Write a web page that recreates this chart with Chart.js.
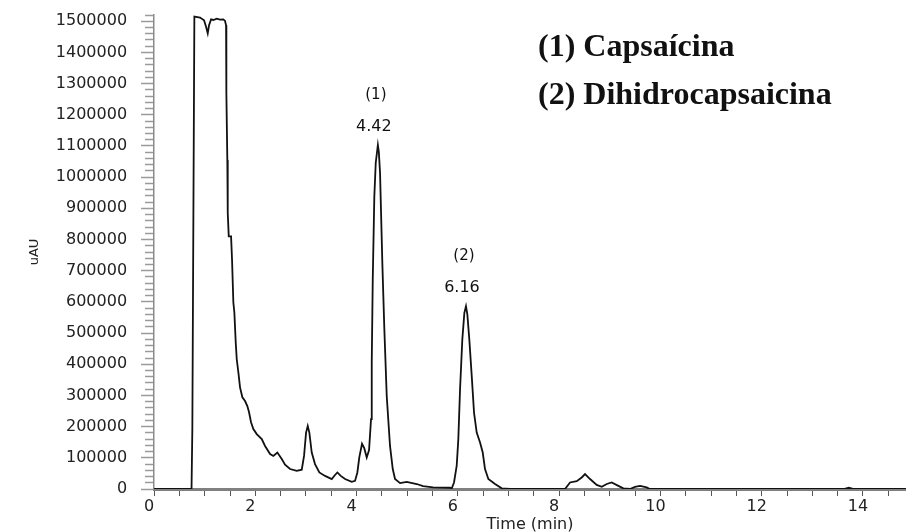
<!DOCTYPE html>
<html>
<head>
<meta charset="utf-8">
<title>Cromatograma</title>
<script src="https://cdn.jsdelivr.net/npm/chart.js@4.4.0/dist/chart.umd.min.js"></script>
<style>
    html, body { margin: 0; padding: 0; background: #fff; }
    .chart-box { position: relative; width: 906px; height: 532px; }
</style>
</head>
<body>
<div class="chart-box"><canvas id="chromatogramChart"></canvas></div>
<script>
    // Tiempo de retención (min)
    const retentionTimes = [
        0, 0.74, 0.756, 0.796, 0.908, 0.987, 1.027, 1.06, 1.086, 1.126,
        1.171, 1.238, 1.303, 1.368, 1.402, 1.422, 1.428, 1.447, 1.455, 1.475,
        1.521, 1.54, 1.566, 1.586, 1.613, 1.633, 1.665, 1.698, 1.744, 1.797,
        1.842, 1.876, 1.915, 1.961, 2.028, 2.127, 2.192, 2.291, 2.356, 2.435,
        2.522, 2.587, 2.686, 2.818, 2.917, 2.962, 3.002, 3.035, 3.067, 3.114,
        3.179, 3.264, 3.377, 3.509, 3.574, 3.62, 3.687, 3.772, 3.904, 3.969,
        4.015, 4.054, 4.107, 4.151, 4.2, 4.246, 4.285, 4.299, 4.319, 4.35,
        4.378, 4.42, 4.439, 4.463, 4.483, 4.508, 4.548, 4.595, 4.66, 4.714,
        4.759, 4.858, 4.99, 5.188, 5.312, 5.509, 5.845, 5.879, 5.924, 5.977,
        6.009, 6.043, 6.088, 6.128, 6.16, 6.187, 6.226, 6.274, 6.319, 6.372,
        6.438, 6.491, 6.536, 6.602, 6.734, 6.866, 7.03, 8.116, 8.215, 8.347,
        8.446, 8.511, 8.61, 8.742, 8.841, 8.94, 9.038, 9.169, 9.268, 9.4,
        9.498, 9.597, 9.729, 9.79, 13.62, 13.72, 13.82, 14.85
    ];

    // Señal del detector (uAU)
    const signalValues = [
        0, 0, 192000, 1515000, 1512000, 1503000, 1482000, 1461000, 1487000, 1506000,
        1504000, 1508000, 1505000, 1506000, 1501000, 1487000, 1270000, 1055000, 886000, 810000,
        810000, 736000, 598000, 566000, 470000, 416000, 374000, 326000, 294000, 282000,
        266000, 246000, 214000, 192000, 176000, 160000, 138000, 112000, 106000, 117000,
        96000, 78000, 64000, 58000, 62000, 106000, 181000, 202000, 181000, 117000,
        80000, 53000, 42000, 32000, 45000, 53000, 42000, 32000, 23000, 26000,
        53000, 102000, 145000, 131000, 101000, 125000, 224000, 406000, 672000, 938000,
        1046000, 1103000, 1081000, 1014000, 886000, 726000, 512000, 298000, 138000, 64000,
        32000, 19000, 23000, 16000, 9000, 5000, 4000, 2000, 21000, 75000,
        160000, 320000, 480000, 565000, 586000, 560000, 480000, 362000, 245000, 181000,
        149000, 117000, 64000, 32000, 16000, 2000, 0, 0, 21000, 25000,
        37000, 48000, 32000, 13000, 7000, 16000, 21000, 10000, 2000, 0,
        7000, 10000, 5000, 0, 0, 4000, 0, 0
    ];

    // Picos identificados
    const peakTimes = [4.42, 6.16];
    const peakTags = ['(1)', '(2)'];
    const compoundNames = ['(1) Capsaícina', '(2) Dihidrocapsaicina'];

    // Rangos de los ejes
    const timeMax = 14.85;
    const signalMax = 1520000;

    const tickFont = { family: '"DejaVu Sans", sans-serif', size: 16 };

    // Etiquetas de los picos y nombres de los compuestos
    const peakAnnotations = {
        id: 'peakAnnotations',
        afterDatasetsDraw(chart) {
            const { ctx, scales: { x, y } } = chart;
            ctx.save();
            ctx.fillStyle = '#111';
            ctx.textAlign = 'center';
            ctx.textBaseline = 'middle';
            peakTimes.forEach((t, i) => {
                const value = signalValues[retentionTimes.indexOf(t)];
                const px = x.getPixelForValue(t);
                const py = y.getPixelForValue(value);
                ctx.font = '15px "DejaVu Sans"';
                ctx.fillText(peakTags[i], px - 2, py - 50);
                ctx.font = '16px "DejaVu Sans"';
                ctx.fillText(t.toFixed(2), px - 4, py - 18);
            });

            ctx.textAlign = 'left';
            ctx.font = 'bold 32px "Liberation Serif"';
            compoundNames.forEach((name, i) => {
                ctx.fillText(name, 538, 48 + i * 48);
            });
            ctx.restore();
        }
    };

    const ctx = document.getElementById('chromatogramChart').getContext('2d');

    new Chart(ctx, {
        type: 'line',
        data: {
            datasets: [{
                label: 'uAU',
                data: retentionTimes.map((t, i) => ({ x: t, y: signalValues[i] })),
                borderColor: '#111',
                borderWidth: 1.8,
                pointRadius: 0,
                tension: 0,
                fill: false
            }]
        },
        options: {
            responsive: true,
            maintainAspectRatio: false,
            animation: false,
            layout: {
                padding: { left: 7, right: 0, top: 15, bottom: 0 }
            },
            plugins: {
                legend: { display: false },
                tooltip: { enabled: false }
            },
            scales: {
                x: {
                    type: 'linear',
                    min: 0,
                    max: timeMax,
                    z: 1,
                    border: { display: true, color: '#808080', width: 3 },
                    grid: {
                        drawOnChartArea: false,
                        drawTicks: true,
                        tickLength: 7,
                        tickColor: '#555',
                        tickWidth: 1
                    },
                    ticks: {
                        stepSize: 0.5,
                        includeBounds: false,
                        autoSkip: false,
                        maxRotation: 0,
                        padding: 1,
                        labelOffset: -5,
                        color: '#222',
                        font: tickFont,
                        callback: v => (v % 2 === 0 ? String(v) : '')
                    },
                    title: {
                        display: true,
                        text: 'Time (min)',
                        color: '#222',
                        font: { family: '"DejaVu Sans", sans-serif', size: 16, lineHeight: 1 },
                        padding: { top: -0.7, bottom: -0.5 }
                    }
                },
                y: {
                    min: 0,
                    max: signalMax,
                    border: { display: true, color: '#8a8a8a', width: 1.5 },
                    grid: {
                        drawOnChartArea: false,
                        drawTicks: true,
                        tickLength: 13,
                        tickColor: '#9a9a9a',
                        tickWidth: 1.5,
                        tickBorderDash: c => (c.tick && c.tick.value % 100000 === 0 ? [] : [0, 4, 20])
                    },
                    ticks: {
                        stepSize: 20000,
                        includeBounds: false,
                        autoSkip: false,
                        padding: 14,
                        color: '#222',
                        font: tickFont,
                        callback: v => (v % 100000 === 0 ? String(v) : '')
                    },
                    title: {
                        display: true,
                        text: 'uAU',
                        color: '#222',
                        font: { family: '"DejaVu Sans", sans-serif', size: 13 },
                        padding: { top: 20.2, bottom: -1 }
                    },
                    // el eje y no necesita margen extra arriba ni abajo
                    afterFit: scale => {
                        scale.paddingTop = 0;
                        scale.paddingBottom = 0;
                    }
                }
            }
        },
        plugins: [peakAnnotations]
    });
</script>
</body>
</html>
